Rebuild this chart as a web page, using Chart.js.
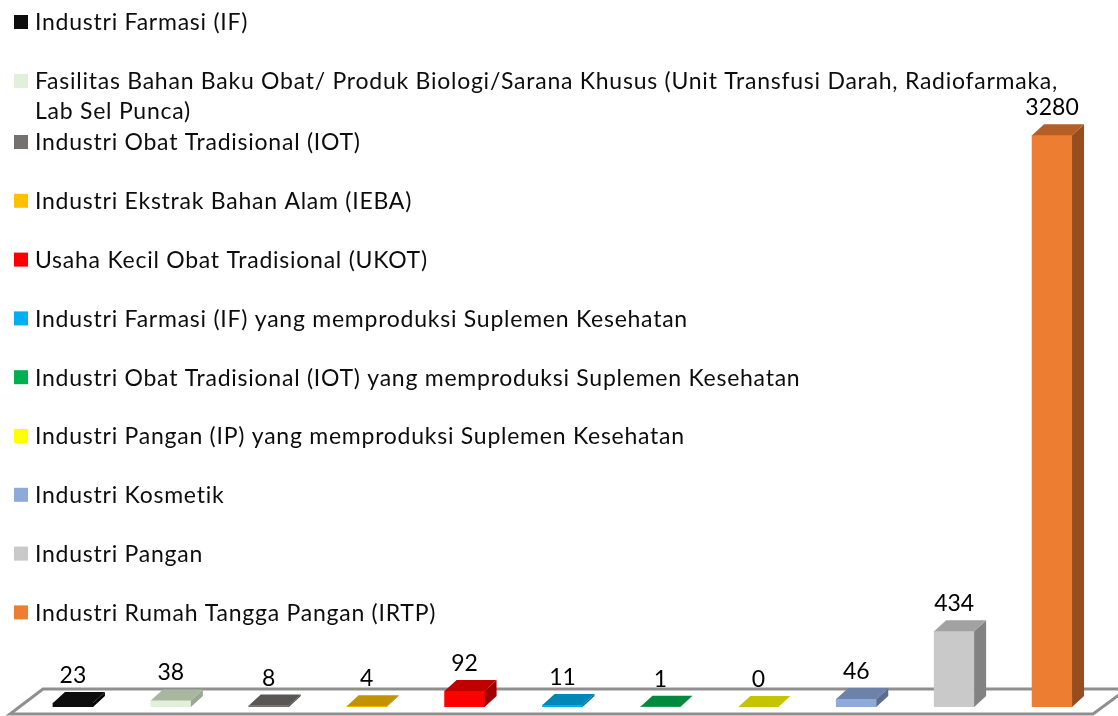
<!DOCTYPE html>
<html>
<head>
<meta charset="utf-8">
<script src="https://cdn.jsdelivr.net/npm/chart.js@4"></script>
<style>
  html, body { margin: 0; padding: 0; background: #ffffff; }
  #wrap { position: relative; width: 1118px; height: 716px; }
</style>
</head>
<body>
<div id="wrap"><canvas id="c" width="1118" height="716"></canvas></div>
<script>
// ---- data ----
const categories = [
  "Industri Farmasi (IF)",
  "Fasilitas Bahan Baku Obat/ Produk Biologi/Sarana Khusus (Unit Transfusi Darah, Radiofarmaka, Lab Sel Punca)",
  "Industri Obat Tradisional (IOT)",
  "Industri Ekstrak Bahan Alam (IEBA)",
  "Usaha Kecil Obat Tradisional (UKOT)",
  "Industri Farmasi (IF) yang memproduksi Suplemen Kesehatan",
  "Industri Obat Tradisional (IOT) yang memproduksi Suplemen Kesehatan",
  "Industri Pangan (IP) yang memproduksi Suplemen Kesehatan",
  "Industri Kosmetik",
  "Industri Pangan",
  "Industri Rumah Tangga Pangan (IRTP)"
];
const values = [23, 38, 8, 4, 92, 11, 1, 0, 46, 434, 3280];

// legend label lines (the long one wraps as in the reference)
const legendLines = [
  ["Industri Farmasi (IF)"],
  ["Fasilitas Bahan Baku Obat/ Produk Biologi/Sarana Khusus (Unit Transfusi Darah, Radiofarmaka,", "Lab Sel Punca)"],
  ["Industri Obat Tradisional (IOT)"],
  ["Industri Ekstrak Bahan Alam (IEBA)"],
  ["Usaha Kecil Obat Tradisional (UKOT)"],
  ["Industri Farmasi (IF) yang memproduksi Suplemen Kesehatan"],
  ["Industri Obat Tradisional (IOT) yang memproduksi Suplemen Kesehatan"],
  ["Industri Pangan (IP) yang memproduksi Suplemen Kesehatan"],
  ["Industri Kosmetik"],
  ["Industri Pangan"],
  ["Industri Rumah Tangga Pangan (IRTP)"]
];

// ---- styles ----
const frontColors = ["#0d0d0d","#e2efda","#767171","#ffc000","#ff0000","#00b0f0","#00b050","#ffff00","#8eaadb","#c9c9c9","#ed7d31"];
const topColors   = ["#0d0d0d","#a9b7a0","#5a5656","#c29200","#c00000","#0087b8","#008a3d","#c4c400","#6d82a8","#a2a2a2","#b65e25"];
const sideColors  = ["#050505","#9aa892","#4a4747","#a87f00","#a00000","#00719b","#007433","#a8a800","#5c6e8f","#828282","#974d1d"];

const DX = 12, DY = 11;

const floorPlugin = {
  id: 'floor3d',
  beforeDatasetsDraw(chart) {
    const ctx = chart.ctx, a = chart.chartArea;
    ctx.save();
    ctx.beginPath();
    ctx.moveTo(a.left + 19, a.bottom - 18);
    ctx.lineTo(a.right + 26, a.bottom - 18);
    ctx.lineTo(a.right - 8, a.bottom + 7);
    ctx.lineTo(a.left - 14, a.bottom + 7);
    ctx.closePath();
    ctx.fillStyle = '#ffffff';
    ctx.fill();
    ctx.lineWidth = 3;
    ctx.strokeStyle = '#8f8f8f';
    ctx.stroke();
    ctx.restore();
  }
};

const bars3dPlugin = {
  id: 'bars3d',
  afterDatasetsDraw(chart) {
    const ctx = chart.ctx;
    const meta = chart.getDatasetMeta(0);
    ctx.save();
    meta.data.forEach((bar, i) => {
      const w = bar.width;
      const xL = bar.x - w / 2, xR = bar.x + w / 2;
      const yT = Math.min(bar.y, bar.base), yB = bar.base;
      // side face
      ctx.beginPath();
      ctx.moveTo(xR, yT);
      ctx.lineTo(xR + DX, yT - DY);
      ctx.lineTo(xR + DX, yB - DY);
      ctx.lineTo(xR, yB);
      ctx.closePath();
      ctx.fillStyle = sideColors[i];
      ctx.fill();
      // top face
      ctx.beginPath();
      ctx.moveTo(xL, yT);
      ctx.lineTo(xR, yT);
      ctx.lineTo(xR + DX, yT - DY);
      ctx.lineTo(xL + DX, yT - DY);
      ctx.closePath();
      ctx.fillStyle = topColors[i];
      ctx.fill();
      // value label
      ctx.fillStyle = '#000000';
      ctx.font = '23px Lato';
      ctx.textAlign = 'center';
      ctx.textBaseline = 'alphabetic';
      ctx.fillText(String(values[i]), bar.x, yT - 20);
    });
    ctx.restore();
  }
};

const legendPlugin = {
  id: 'legendOverlay',
  afterDraw(chart) {
    const ctx = chart.ctx;
    ctx.save();
    ctx.font = '23px Lato';
    try { ctx.letterSpacing = '0.75px'; } catch (e) {}
    ctx.textAlign = 'left';
    ctx.textBaseline = 'middle';
    // vertical centres of the first line of each entry
    const ys = [22, 81, 142];
    for (let k = 3; k < legendLines.length; k++) ys.push(142 + 58.8 * (k - 2));
    legendLines.forEach((lines, i) => {
      const y = ys[i];
      ctx.fillStyle = frontColors[i];
      ctx.fillRect(14, y - 7, 14, 14);
      ctx.fillStyle = '#0d0d0d';
      lines.forEach((t, j) => ctx.fillText(t, 35, y + 1 + j * 30));
    });
    ctx.restore();
  }
};

new Chart(document.getElementById('c'), {
  type: 'bar',
  data: {
    labels: categories,
    datasets: [{
      data: values,
      backgroundColor: frontColors,
      borderWidth: 0,
      barThickness: 40,
      minBarLength: 0
    }]
  },
  options: {
    responsive: false,
    animation: false,
    layout: { padding: { left: 24, right: 17, top: 97, bottom: 9 } },
    plugins: { legend: { display: false }, tooltip: { enabled: false } },
    scales: {
      x: { display: false, offset: true, grid: { display: false } },
      y: { display: false, min: 0, max: 3500, grid: { display: false } }
    }
  },
  plugins: [floorPlugin, bars3dPlugin, legendPlugin]
});
</script>
</body>
</html>
